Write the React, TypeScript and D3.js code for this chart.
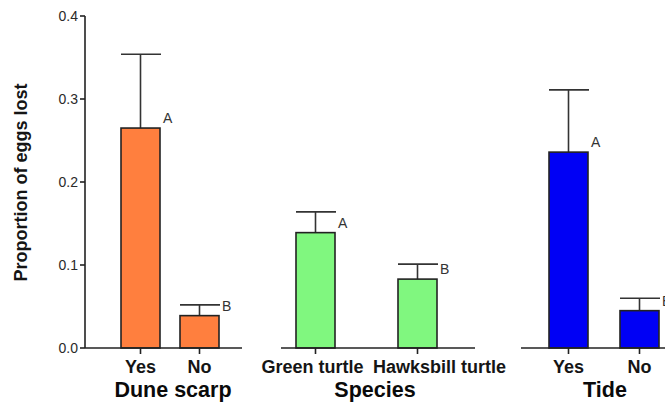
import React from "react";
import * as d3 from "d3";

// Proportion of eggs lost, grouped by factor (mean with upper SE whisker)
const duneCategories = ["Yes", "No"];
const duneMeans = [0.265, 0.039];
const duneUpper = [0.354, 0.052];
const duneLetters = ["A", "B"];

const speciesCategories = ["Green turtle", "Hawksbill turtle"];
const speciesMeans = [0.139, 0.083];
const speciesUpper = [0.164, 0.101];
const speciesLetters = ["A", "B"];

const tideCategories = ["Yes", "No"];
const tideMeans = [0.236, 0.045];
const tideUpper = [0.311, 0.06];
const tideLetters = ["A", "B"];

const groupTitles = ["Dune scarp", "Species", "Tide"];
const yTicks = [0.0, 0.1, 0.2, 0.3, 0.4];
const yTitle = "Proportion of eggs lost";

const W = 665;
const H = 407;
const FONT = "'Liberation Sans', Arial, Helvetica, sans-serif";

const y = d3.scaleLinear().domain([0, 0.4]).range([348, 16]);

type Panel = {
  cats: string[];
  means: number[];
  upper: number[];
  letters: string[];
  fill: string;
  axis: [number, number];
  centers: [number, number];
  labelShift: [number, number];
  titleX: number;
};

const panels: Panel[] = [
  { cats: duneCategories, means: duneMeans, upper: duneUpper, letters: duneLetters, fill: "#FF7F3E", axis: [85, 242], centers: [140.5, 199.5], labelShift: [0, 0], titleX: 173 },
  { cats: speciesCategories, means: speciesMeans, upper: speciesUpper, letters: speciesLetters, fill: "#80F77F", axis: [281, 475], centers: [315.5, 417.5], labelShift: [-3, 22], titleX: 375 },
  { cats: tideCategories, means: tideMeans, upper: tideUpper, letters: tideLetters, fill: "#0000F5", axis: [521, 680], centers: [568.5, 639.5], labelShift: [0, 0], titleX: 605 },
];

const BAR_W = 39;
const STROKE = "#222";

function PanelView({ p, title }: { p: Panel; title: string }) {
  const x = d3.scalePoint<string>().domain(p.cats).range(p.centers);
  const base = y(0);
  return (
    <g>
      {p.cats.map((c, i) => {
        const cx = x(c) as number;
        const top = y(p.means[i]);
        const errTop = y(p.upper[i]);
        return (
          <g key={c}>
            <line x1={cx} x2={cx} y1={top} y2={errTop} stroke="#333" strokeWidth={1.6} />
            <line x1={cx - BAR_W / 2} x2={cx + BAR_W / 2 + 1} y1={errTop} y2={errTop} stroke="#333" strokeWidth={1.6} />
            <rect x={cx - BAR_W / 2} y={top} width={BAR_W} height={base - top} fill={p.fill} stroke={STROKE} strokeWidth={1.6} />
            <text x={cx + BAR_W / 2 + 3} y={top - 10} dy="0.35em" fontSize={14} fill="#333" fontFamily={FONT}>
              {p.letters[i]}
            </text>
            <line x1={cx} x2={cx} y1={base} y2={base + 6} stroke={STROKE} strokeWidth={1.6} />
            <text x={cx + p.labelShift[i]} y={373} textAnchor="middle" fontSize={18} fontWeight="bold" fill="#151515" fontFamily={FONT}>
              {c}
            </text>
          </g>
        );
      })}
      <line x1={p.axis[0]} x2={p.axis[1]} y1={base} y2={base} stroke={STROKE} strokeWidth={1.6} />
      <text x={p.titleX} y={397} textAnchor="middle" fontSize={21.5} fontWeight="bold" fill="#0a0a0a" fontFamily={FONT}>
        {title}
      </text>
    </g>
  );
}

export default function App() {
  return (
    <svg width={W} height={H} style={{ position: "absolute", left: 0, top: 0, background: "#fff" }}>
      <rect width={W} height={H} fill="#fff" />
      {/* y axis */}
      <line x1={85} x2={85} y1={y(0.4)} y2={y(0)} stroke={STROKE} strokeWidth={1.6} />
      {yTicks.map((t) => (
        <g key={t}>
          <line x1={80} x2={85} y1={y(t)} y2={y(t)} stroke={STROKE} strokeWidth={1.6} />
          <text x={78} y={y(t)} dy="0.36em" textAnchor="end" fontSize={14} fill="#2a2a2a" fontFamily={FONT}>
            {d3.format(".1f")(t)}
          </text>
        </g>
      ))}
      <text
        transform={`translate(27, ${(82 + 283) / 2}) rotate(-90)`}
        textAnchor="middle"
        fontSize={18}
        fontWeight="bold"
        fill="#151515"
        fontFamily={FONT}
      >
        {yTitle}
      </text>
      {panels.map((p, i) => (
        <PanelView key={i} p={p} title={groupTitles[i]} />
      ))}
    </svg>
  );
}
